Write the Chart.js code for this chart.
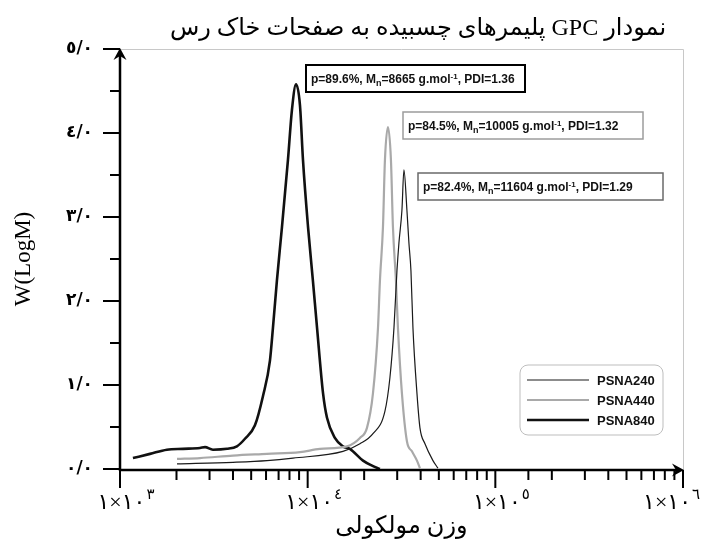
<!DOCTYPE html>
<html>
<head>
<meta charset="utf-8">
<script src="https://cdn.jsdelivr.net/npm/chart.js@4.4.0/dist/chart.umd.min.js"></script>
<style>
  html, body { margin: 0; padding: 0; background: #fff; }
</style>
</head>
<body>
<canvas id="gpcChart" width="701" height="546"></canvas>
<script>
// --- data (M in g/mol, W(LogM)) ---
const seriesNames = ["PSNA240", "PSNA440", "PSNA840"];

const psna240M = [2013, 4000, 6070, 8350, 15420, 18990, 22280, 25810, 27440, 28830, 29910, 30640, 31790,
  32580, 33800, 34640, 35510, 36390, 38230, 39660, 42170, 46520, 49450];
const psna240W = [0.06, 0.08, 0.10, 0.13, 0.21, 0.30, 0.42, 0.69, 1.09, 1.68, 2.36, 2.69, 3.08,
  3.56, 3.08, 2.69, 2.36, 1.68, 0.90, 0.49, 0.30, 0.10, 0.01];

const psna440M = [2013, 2668, 4000, 6070, 9099, 11630, 16190, 18990, 20700, 22280, 23700, 24270, 25190,
  25810, 26780, 27780, 28470, 29540, 30270, 31790, 33800, 35950, 38230, 39660];
const psna440W = [0.12, 0.13, 0.16, 0.18, 0.20, 0.24, 0.27, 0.37, 0.49, 0.90, 1.68, 2.24, 2.88,
  3.68, 4.07, 3.68, 2.88, 2.24, 1.68, 0.90, 0.33, 0.21, 0.10, 0.01];

const psna840M = [1172, 1445, 1778, 2168, 2667, 2838, 3126, 3715, 4198, 4634, 5236, 5781, 6295, 6531,
  6855, 7295, 7852, 8241, 8670, 9099, 9441, 10046, 10666, 11220, 12078, 12677, 13964, 15417, 16788,
  19724, 22029, 24266];
const psna840W = [0.13, 0.18, 0.23, 0.24, 0.25, 0.26, 0.23, 0.24, 0.27, 0.36, 0.52, 0.87, 1.29, 1.68,
  2.24, 2.88, 3.68, 4.27, 4.58, 4.33, 3.68, 2.88, 2.24, 1.68, 0.90, 0.61, 0.37, 0.27, 0.24,
  0.10, 0.04, 0.00];

// annotation values, same order as seriesNames
const purity = ["82.4%", "84.5%", "89.6%"];
const mnValues = ["11604", "10005", "8665"];
const pdiValues = ["1.29", "1.32", "1.36"];

// tick labels
const yTickLabels = ["٠/٠", "١/٠", "٢/٠", "٣/٠", "٤/٠", "٥/٠"];
const xTickBase = "١×١٠";
const xTickExp = ["٣", "٤", "٥", "٦"];

const chartTitle = "نمودار GPC پلیمرهای چسبیده به صفحات خاک رس";
const xTitle = "وزن مولکولی";
const yTitle = "W(LogM)";

const pairs = (xs, ys) => xs.map((x, i) => ({ x: x, y: ys[i] }));

const serif = "'Liberation Serif', 'DejaVu Sans', serif";
const sans = "'Liberation Sans', Arial, sans-serif";
const LRO = "\u202D", PDF = "\u202C";

// note boxes: position relative to the chart area, one per series
const noteStyle = [
  { dx: 298, dy: 124, w: 245, color: "#6a6a6a", lw: 1.5 },
  { dx: 283, dy: 63, w: 240, color: "#9c9c9c", lw: 1.5 },
  { dx: 186, dy: 16, w: 219, color: "#000", lw: 2 },
];

const decorPlugin = {
  id: "decor",
  afterDatasetsDraw(chart) {
    const ctx = chart.ctx;
    const a = chart.chartArea;
    ctx.save();

    // annotation boxes
    noteStyle.forEach((s, i) => {
      const x = a.left + s.dx, y = a.top + s.dy, h = 27;
      ctx.lineWidth = s.lw;
      ctx.strokeStyle = s.color;
      ctx.fillStyle = "#fff";
      ctx.fillRect(x, y, s.w, h);
      ctx.strokeRect(x, y, s.w, h);
      const parts = [
        ["p=" + purity[i] + ", M", 12, 0],
        ["n", 9, 3],
        ["=" + mnValues[i] + " g.mol", 12, 0],
        ["-1", 8, -4],
        [", PDI=" + pdiValues[i], 12, 0],
      ];
      let tx = x + 5;
      const base = y + 17.5;
      ctx.fillStyle = "#111";
      ctx.textAlign = "left";
      ctx.textBaseline = "alphabetic";
      parts.forEach(([t, size, off]) => {
        ctx.font = "bold " + size + "px " + sans;
        ctx.fillText(t, tx, base + off);
        tx += ctx.measureText(t).width;
      });
    });

    // legend box
    const lx = a.left + 400, ly = a.top + 316, lw = 143, lh = 70;
    ctx.beginPath();
    ctx.roundRect(lx, ly, lw, lh, 8);
    ctx.fillStyle = "#fff";
    ctx.fill();
    ctx.strokeStyle = "#bdbdbd";
    ctx.lineWidth = 1;
    ctx.stroke();
    chart.data.datasets.forEach((ds, i) => {
      const ry = ly + 15 + i * 20;
      ctx.beginPath();
      ctx.moveTo(lx + 7, ry);
      ctx.lineTo(lx + 69, ry);
      ctx.strokeStyle = ds.borderColor;
      ctx.lineWidth = ds.borderWidth;
      ctx.stroke();
      ctx.fillStyle = "#111";
      ctx.font = "bold 13px " + sans;
      ctx.textBaseline = "middle";
      ctx.fillText(ds.label, lx + 77, ry + 1);
    });
    ctx.restore();
  },
  afterDraw(chart) {
    const ctx = chart.ctx;
    const a = chart.chartArea;
    const xs = chart.scales.x, ys = chart.scales.y;
    const axisY = a.bottom + 1;
    ctx.save();

    // light frame top/right
    ctx.strokeStyle = "#c8c8c8";
    ctx.lineWidth = 1;
    ctx.beginPath();
    ctx.moveTo(a.left, a.top + 0.5);
    ctx.lineTo(a.right + 0.5, a.top + 0.5);
    ctx.lineTo(a.right + 0.5, axisY);
    ctx.stroke();

    // axis lines
    ctx.strokeStyle = "#000";
    ctx.fillStyle = "#000";
    ctx.lineWidth = 2.5;
    ctx.beginPath();
    ctx.moveTo(a.left, axisY + 1);
    ctx.lineTo(a.left, a.top + 4);
    ctx.moveTo(a.left - 1, axisY);
    ctx.lineTo(a.right - 4, axisY);
    ctx.stroke();

    // arrow heads
    ctx.beginPath();
    ctx.moveTo(a.left, a.top - 1);
    ctx.lineTo(a.left + 6.5, a.top + 11);
    ctx.lineTo(a.left, a.top + 7);
    ctx.lineTo(a.left - 6.5, a.top + 11);
    ctx.closePath();
    ctx.fill();
    ctx.beginPath();
    ctx.moveTo(a.right + 1, axisY);
    ctx.lineTo(a.right - 11, axisY - 6.5);
    ctx.lineTo(a.right - 7, axisY);
    ctx.lineTo(a.right - 11, axisY + 6.5);
    ctx.closePath();
    ctx.fill();

    // tick marks
    ctx.lineWidth = 2;
    ctx.beginPath();
    ys.ticks.forEach((t) => {
      const py = ys.getPixelForValue(t.value);
      const len = Number.isInteger(t.value) ? 17 : 10;
      ctx.moveTo(a.left - len, py);
      ctx.lineTo(a.left, py);
    });
    const majors = [];
    xs.ticks.forEach((t) => {
      const px = xs.getPixelForValue(t.value);
      const isMajor = Math.abs(Math.log10(t.value) - Math.round(Math.log10(t.value))) < 1e-9;
      ctx.moveTo(px, axisY);
      ctx.lineTo(px, axisY + (isMajor ? 18 : 10));
      if (isMajor) majors.push(px);
    });
    ctx.stroke();

    // x tick labels with superscript exponent
    ctx.textBaseline = "alphabetic";
    ctx.textAlign = "left";
    majors.forEach((px, i) => {
      ctx.font = "22px " + serif;
      const bw = ctx.measureText(LRO + xTickBase + PDF).width;
      ctx.font = "15px " + serif;
      const ew = ctx.measureText(xTickExp[i]).width;
      let x0 = px + 6 - (bw + ew + 1) / 2;
      if (x0 + bw + ew + 1 > 700) x0 = 700 - bw - ew - 1;
      ctx.font = "22px " + serif;
      ctx.fillText(LRO + xTickBase + PDF, x0, 509);
      ctx.font = "15px " + serif;
      ctx.fillText(xTickExp[i], x0 + bw + 1, 499);
    });

    // chart title (right-to-left)
    ctx.direction = "rtl";
    ctx.textAlign = "center";
    ctx.textBaseline = "middle";
    ctx.font = "24px " + serif;
    ctx.fillText(chartTitle, 418, 29);
    ctx.restore();
  },
};

new Chart(document.getElementById("gpcChart"), {
  type: "line",
  data: {
    datasets: [
      { label: seriesNames[0], data: pairs(psna240M, psna240W), borderColor: "#1a1a1a", borderWidth: 1.2 },
      { label: seriesNames[1], data: pairs(psna440M, psna440W), borderColor: "#a9a9a9", borderWidth: 2.2 },
      { label: seriesNames[2], data: pairs(psna840M, psna840W), borderColor: "#111111", borderWidth: 2.6 },
    ],
  },
  options: {
    responsive: false,
    animation: false,
    layout: { padding: { top: 49, right: 18, left: 0, bottom: 0 } },
    elements: {
      point: { radius: 0 },
      line: { cubicInterpolationMode: "monotone", fill: false },
    },
    plugins: { legend: { display: false }, tooltip: { enabled: false }, title: { display: false } },
    scales: {
      x: {
        type: "logarithmic",
        min: 1000,
        max: 1000000,
        grid: { display: false, drawTicks: false },
        border: { display: false },
        ticks: { autoSkip: false, callback: () => "" },
        title: { display: true, text: xTitle, color: "#000", font: { family: serif, size: 24 }, padding: { bottom: 5 } },
        afterFit: (s) => { s.height = 77; },
      },
      y: {
        min: 0,
        max: 5,
        grid: { display: false, drawTicks: false },
        border: { display: false },
        ticks: {
          stepSize: 0.5,
          autoSkip: false,
          padding: 27,
          color: "#000",
          font: { family: "'DejaVu Sans'", size: 17, weight: "bold" },
          callback: (v) => (Number.isInteger(v) ? yTickLabels[v] : ""),
        },
        title: { display: true, text: yTitle, color: "#000", font: { family: serif, size: 23 }, padding: { top: 10 } },
        afterFit: (s) => { s.width = 120; },
      },
    },
  },
  plugins: [decorPlugin],
});
</script>
</body>
</html>
